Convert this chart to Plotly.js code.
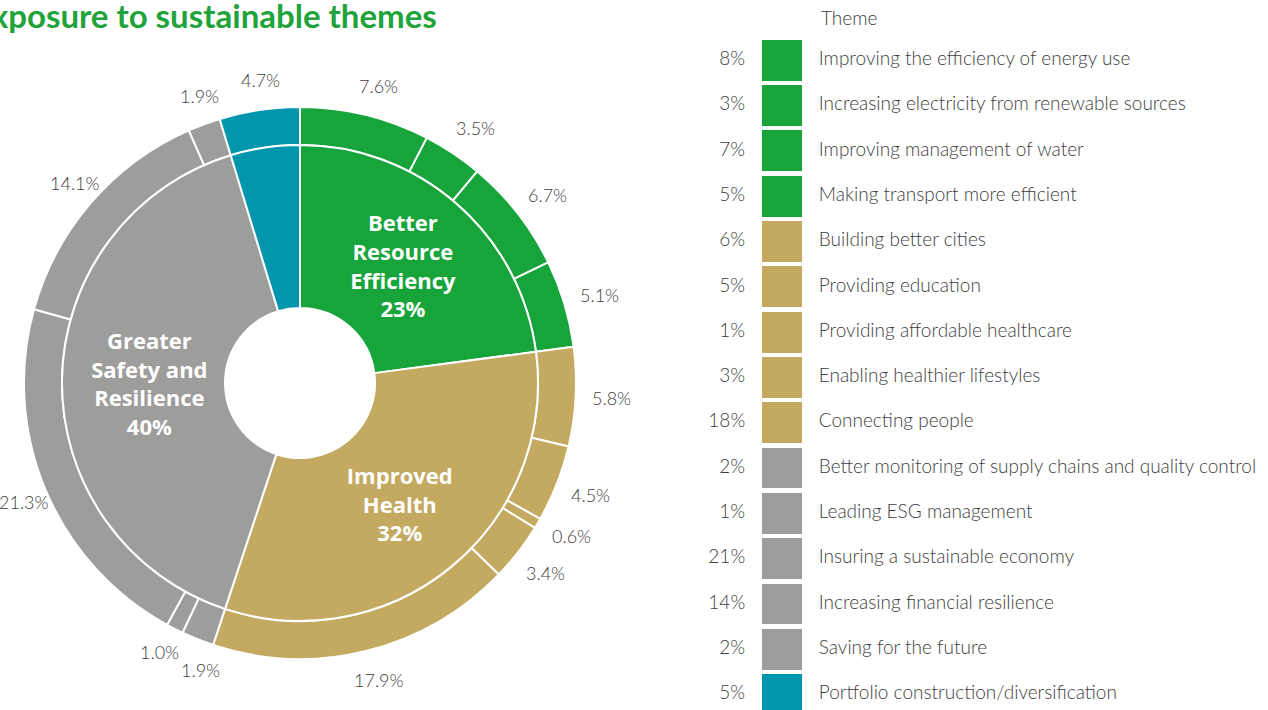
<!DOCTYPE html>
<html><head><meta charset="utf-8">
<script src="https://cdn.plot.ly/plotly-3.0.1.min.js"></script>
<style>html,body{margin:0;padding:0;background:#fff;overflow:hidden}#chart{width:1268px;height:710px}</style>
</head><body><div id="chart"></div>
<script>
const themes = [
  'Improving the efficiency of energy use',
  'Increasing electricity from renewable sources',
  'Improving management of water',
  'Making transport more efficient',
  'Building better cities',
  'Providing education',
  'Providing affordable healthcare',
  'Enabling healthier lifestyles',
  'Connecting people',
  'Better monitoring of supply chains and quality control',
  'Leading ESG management',
  'Insuring a sustainable economy',
  'Increasing financial resilience',
  'Saving for the future',
  'Portfolio construction/diversification'
];
const themeValues = [7.6, 3.5, 6.7, 5.1, 5.8, 4.5, 0.6, 3.4, 17.9, 1.9, 1.0, 21.3, 14.1, 1.9, 4.7];
const legendPct = ['8%', '3%', '7%', '5%', '6%', '5%', '1%', '3%', '18%', '2%', '1%', '21%', '14%', '2%', '5%'];
const themeGroupIndex = [0, 0, 0, 0, 1, 1, 1, 1, 1, 2, 2, 2, 2, 2, 3];

const groups = ['Better Resource Efficiency', 'Improved Health', 'Greater Safety and Resilience', 'Portfolio construction/diversification'];
const groupValues = [22.9, 32.2, 40.2, 4.7];
const groupLabels = ['Better<br>Resource<br>Efficiency<br>23%', 'Improved<br>Health<br>32%', 'Greater<br>Safety and<br>Resilience<br>40%', ''];
const groupColors = ['#16a43b', '#c4a961', '#9d9d9c', '#0097ae'];

const themeColors = themeGroupIndex.map(i => groupColors[i]);
const W = 1268, H = 710;
const CX = 300, CY = 383, R_OUT = 276, R_MID = 238, R_HOLE = 75;
const LABEL_CX = 306, LABEL_R = 306, MIN_SEP = 8.5 * Math.PI / 180;
const FONT = 'Lato, "Open Sans", sans-serif';
const BOLD_FONT = '"Open Sans", Lato, sans-serif';
const TEXT_COLOR = '#404040';

function dom(cx, cy, r) {
  return { x: [(cx - r) / W, (cx + r) / W], y: [(H - cy - r) / H, (H - cy + r) / H] };
}

const outer = {
  type: 'pie', values: themeValues, labels: themes,
  sort: false, direction: 'clockwise', rotation: 0,
  hole: R_MID / R_OUT, domain: dom(CX, CY, R_OUT),
  marker: { colors: themeColors, line: { color: '#ffffff', width: 2 } },
  textinfo: 'none', hoverinfo: 'label+value', showlegend: false
};
const inner = {
  type: 'pie', values: groupValues, labels: groups, text: groupLabels,
  sort: false, direction: 'clockwise', rotation: 0,
  hole: R_HOLE / R_MID, domain: dom(CX, CY, R_MID),
  marker: { colors: groupColors, line: { color: '#ffffff', width: 2 } },
  textinfo: 'text', textposition: 'inside', insidetextorientation: 'horizontal',
  insidetextfont: { family: BOLD_FONT, size: 22, color: '#ffffff', weight: 'bold' },
  hoverinfo: 'label+value', showlegend: false
};
const swatches = {
  type: 'bar', orientation: 'h', y: themes, x: themes.map(() => 1),
  width: 0.9, marker: { color: themeColors, line: { width: 0 } },
  xaxis: 'x', yaxis: 'y', hoverinfo: 'y', showlegend: false
};
const pctText = {
  type: 'scatter', mode: 'text', y: themes, x: themes.map(() => -0.42),
  text: legendPct, textposition: 'middle left',
  textfont: { family: FONT, size: 19, color: TEXT_COLOR, weight: 300 },
  hoverinfo: 'skip', showlegend: false
};
const nameText = {
  type: 'scatter', mode: 'text', y: themes, x: themes.map(() => 1.42),
  text: themes, textposition: 'middle right',
  textfont: { family: FONT, size: 19, color: TEXT_COLOR, weight: 300 },
  hoverinfo: 'skip', showlegend: false
};

// outer percentage labels placed at each slice's mid-angle, spread apart where slices are tiny
const total = themeValues.reduce((a, b) => a + b, 0);
let cum = 0;
const angles = themeValues.map(v => {
  const mid = (cum + v / 2) / total * 2 * Math.PI;
  cum += v;
  return mid;
});
for (let iter = 0; iter < 20; iter++) {
  for (let i = 0; i < angles.length - 1; i++) {
    const gap = angles[i + 1] - angles[i];
    if (gap < MIN_SEP) {
      const push = (MIN_SEP - gap) / 2;
      angles[i] -= push;
      angles[i + 1] += push;
    }
  }
}
const outerLabels = themeValues.map((v, i) => {
  const px = LABEL_CX + LABEL_R * Math.sin(angles[i]);
  const py = CY - LABEL_R * Math.cos(angles[i]);
  return {
    text: v.toFixed(1) + '%', xref: 'paper', yref: 'paper',
    x: px / W, y: 1 - py / H, xanchor: 'center', yanchor: 'middle', showarrow: false,
    font: { family: FONT, size: 18, color: TEXT_COLOR, weight: 300 }
  };
});

const layout = {
  width: W, height: H, margin: { l: 0, r: 0, t: 0, b: 0 },
  paper_bgcolor: '#ffffff', plot_bgcolor: 'rgba(0,0,0,0)',
  showlegend: false, bargap: 0,
  xaxis: { domain: [0.55, 1], range: [-1.615, 12.65], visible: false, fixedrange: true },
  yaxis: { domain: [0, 1], type: 'category', range: [14.34, -1.33], visible: false, fixedrange: true },
  annotations: [
    { text: '<b>Exposure to sustainable themes</b>', xref: 'paper', yref: 'paper',
      x: -30 / W, y: 1 - 15 / H, xanchor: 'left', yanchor: 'middle', showarrow: false,
      font: { family: FONT, size: 33, color: '#1fa33a' } },
    { text: 'Theme', xref: 'paper', yref: 'paper', x: 819 / W, y: 1 - 18 / H,
      xanchor: 'left', yanchor: 'middle', showarrow: false,
      font: { family: FONT, size: 19, color: TEXT_COLOR, weight: 300 } }
  ].concat(outerLabels)
};

Plotly.newPlot('chart', [outer, inner, swatches, pctText, nameText], layout, { displayModeBar: false, staticPlot: true });
</script>
</body></html>
